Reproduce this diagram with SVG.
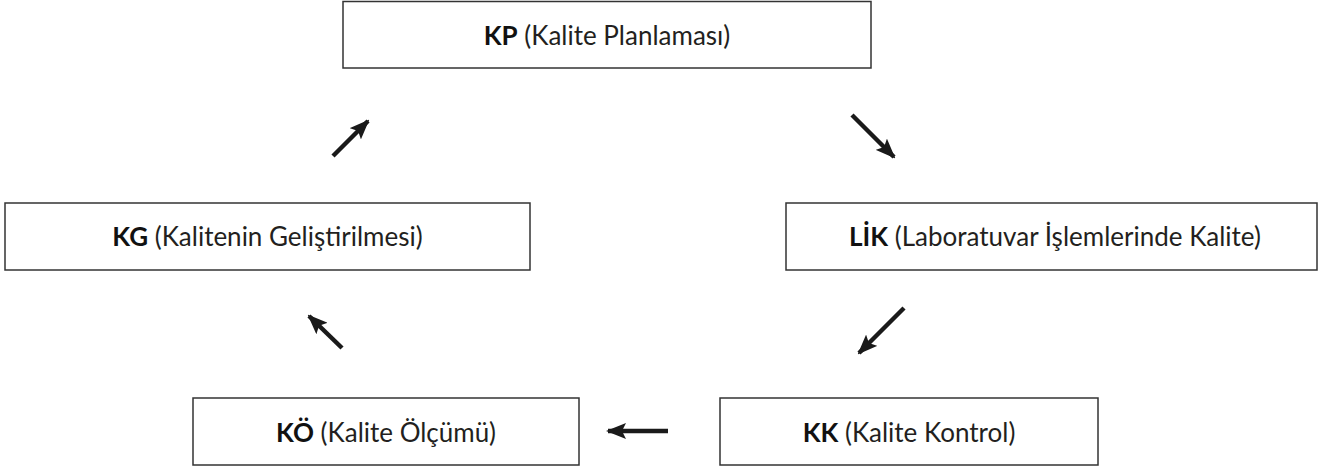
<svg xmlns="http://www.w3.org/2000/svg" width="1325" height="469" viewBox="0 0 1325 469">
<style>
.box{fill:#fff;stroke:#333;stroke-width:1.5}
.t{font-family:"Lato","Open Sans","Liberation Sans",sans-serif;font-size:26px;fill:#231f20;text-anchor:middle}
.b{font-weight:bold;fill:#111}
.c{stroke:#1a1a1a;stroke-width:4.5;fill:none;marker-end:url(#ah)}
</style>
<defs>
<marker id="ah" markerUnits="userSpaceOnUse" markerWidth="20" markerHeight="16" refX="18" refY="8" orient="auto">
<path d="M0,0 L20,8 L0,16 L4,8 Z" fill="#1a1a1a"/>
</marker>
</defs>
<rect width="1325" height="469" fill="#fff"/>
<g id="KP"><rect class="box" x="343" y="1.5" width="528" height="66.5"/><text class="t" x="607" y="45"><tspan class="b">KP</tspan> (Kalite Planlaması)</text></g>
<g id="KG"><rect class="box" x="5" y="203" width="525" height="67"/><text class="t" x="267.5" y="246"><tspan class="b">KG</tspan> (Kalitenin Geliştirilmesi)</text></g>
<g id="LIK"><rect class="box" x="786" y="203" width="531" height="67"/><text class="t" x="1055" y="246"><tspan class="b">LİK</tspan> (Laboratuvar İşlemlerinde Kalite)</text></g>
<g id="KO"><rect class="box" x="193" y="398" width="386" height="67"/><text class="t" x="386" y="442"><tspan class="b">KÖ</tspan> (Kalite Ölçümü)</text></g>
<g id="KK"><rect class="box" x="720" y="398" width="378" height="67"/><text class="t" x="909" y="442"><tspan class="b">KK</tspan> (Kalite Kontrol)</text></g>
<g id="connectors">
<line class="c" x1="333" y1="156" x2="368" y2="121"/>
<line class="c" x1="852" y1="115" x2="894" y2="157"/>
<line class="c" x1="904" y1="308" x2="859" y2="353"/>
<line class="c" x1="668" y1="431" x2="608" y2="431"/>
<line class="c" x1="342" y1="348" x2="309" y2="316"/>
</g>
</svg>
